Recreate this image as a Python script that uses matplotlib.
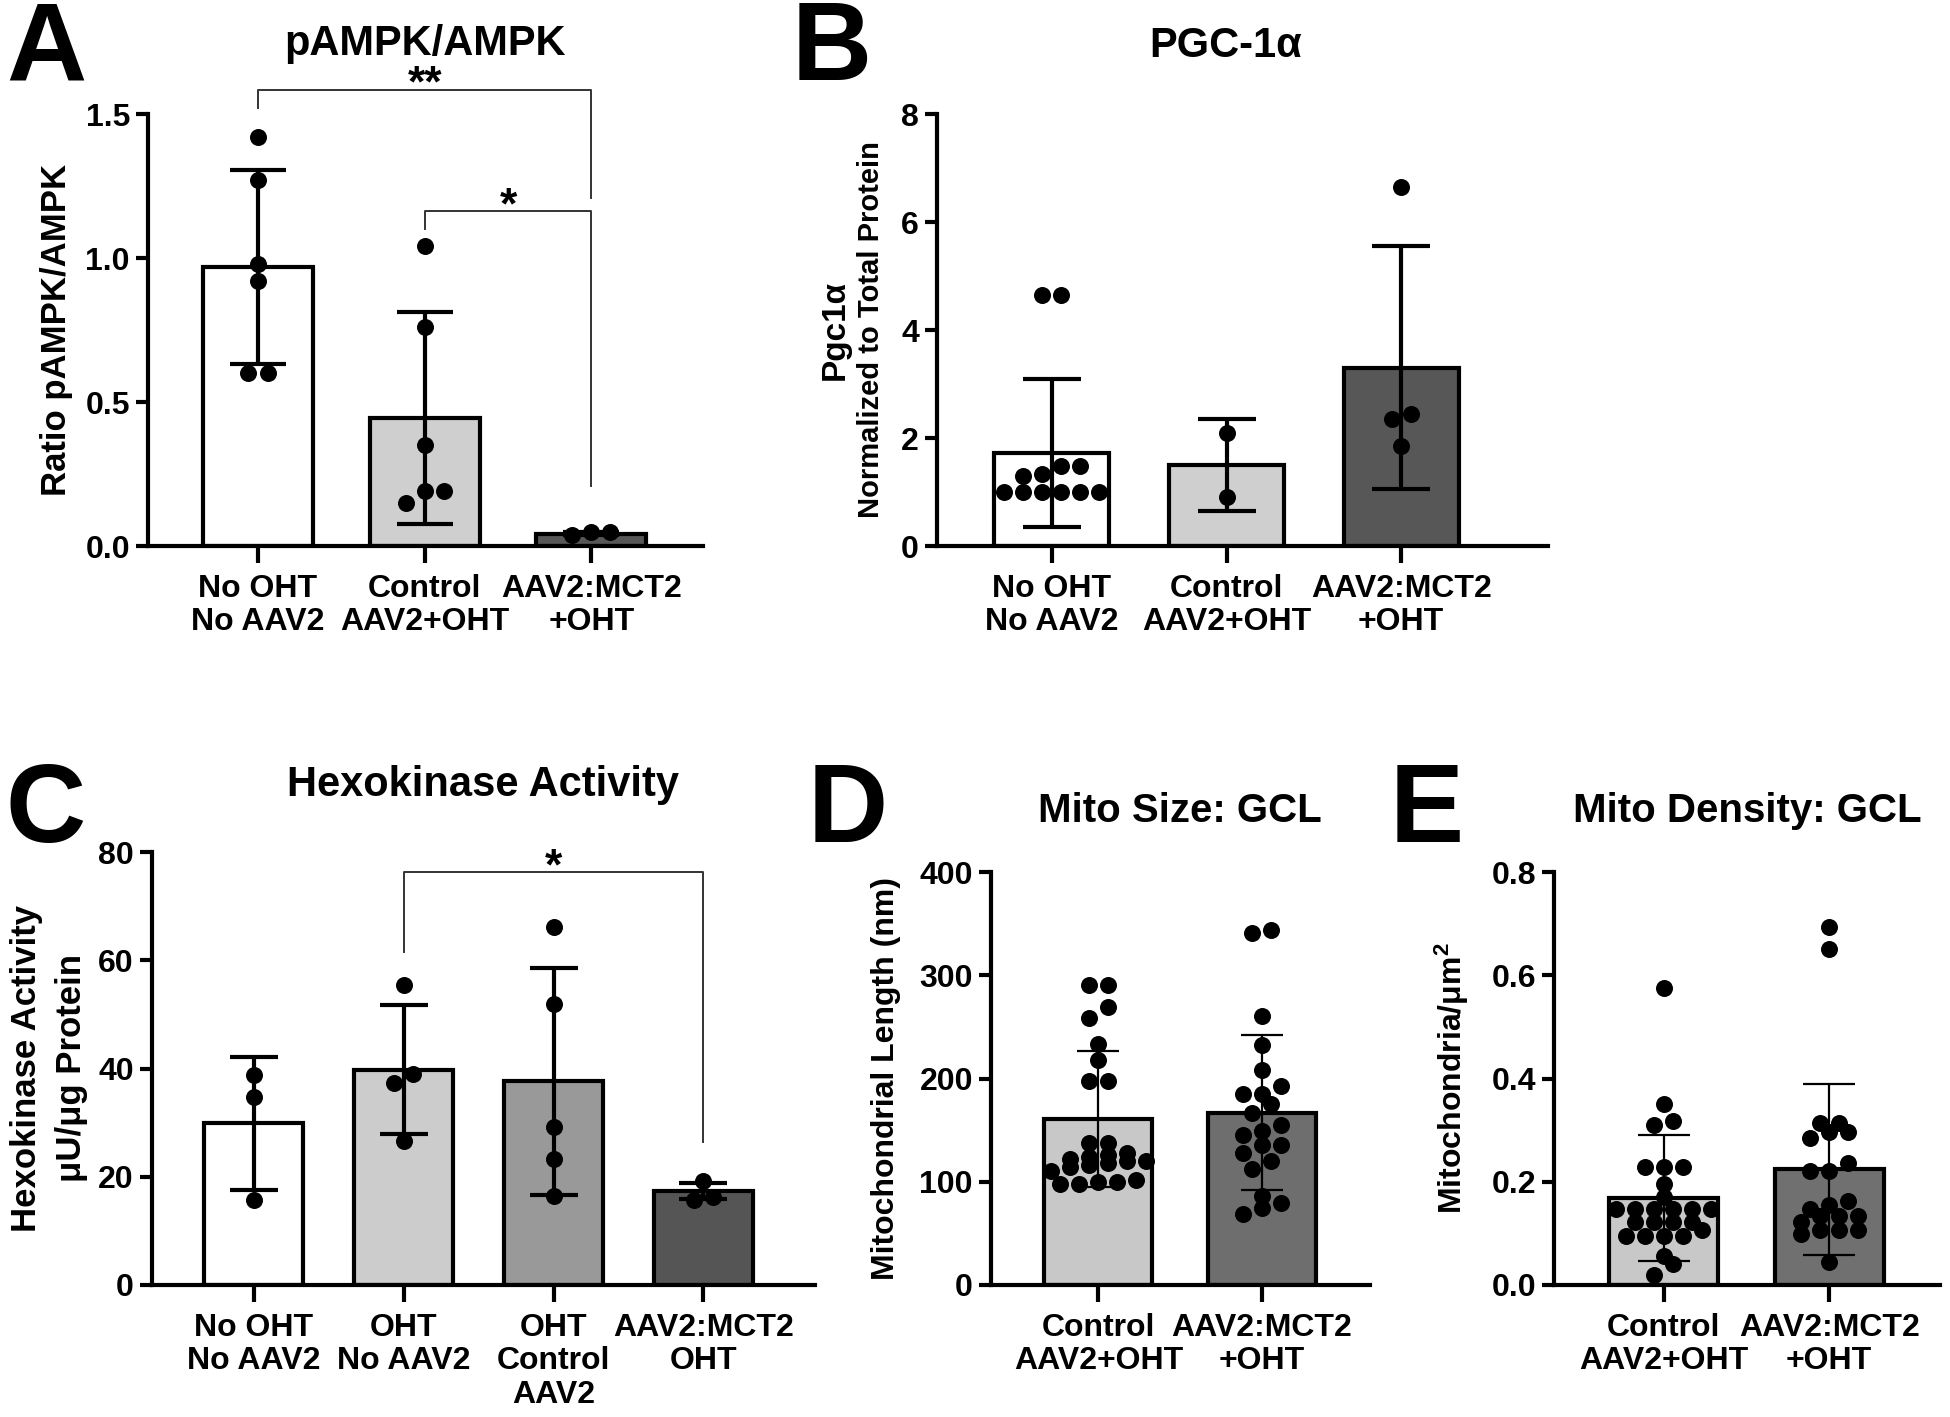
import matplotlib
matplotlib.use("Agg")
import matplotlib.pyplot as plt
import numpy as np

plt.rcParams['font.family'] = ['Liberation Sans', 'DejaVu Sans']
plt.rcParams['font.weight'] = 'bold'
plt.rcParams['mathtext.fontset'] = 'custom'
plt.rcParams['mathtext.rm'] = 'Liberation Sans:bold'
plt.rcParams['mathtext.bf'] = 'Liberation Sans:bold'
plt.rcParams['mathtext.it'] = 'Liberation Sans:bold'

# ---------------- data ----------------
# Panel A: pAMPK/AMPK
a_labels = ["No OHT\nNo AAV2", "Control\nAAV2+OHT", "AAV2:MCT2\n+OHT"]
a_means = [0.968, 0.444, 0.043]
a_sd = [0.337, 0.368, 0.006]
a_pts_noOHT = [1.42, 1.27, 0.98, 0.92, 0.60, 0.60]
a_pts_ctrl = [1.04, 0.76, 0.35, 0.19, 0.19, 0.15]
a_pts_mct2 = [0.048, 0.038, 0.048]

# Panel B: PGC-1a
b_labels = ["No OHT\nNo AAV2", "Control\nAAV2+OHT", "AAV2:MCT2\n+OHT"]
b_means = [1.73, 1.50, 3.30]
b_sd = [1.37, 0.85, 2.25]
b_pts_noOHT = [4.65, 4.65, 1.48, 1.48, 1.30, 1.33, 1.0, 1.0, 1.0, 1.0, 1.0, 1.0]
b_pts_ctrl = [2.10, 0.90]
b_pts_mct2 = [6.65, 2.45, 2.35, 1.85]

# Panel C: Hexokinase activity
c_labels = ["No OHT\nNo AAV2", "OHT\nNo AAV2", "OHT\nControl\nAAV2", "AAV2:MCT2\nOHT"]
c_means = [29.9, 39.8, 37.6, 17.3]
c_sd = [12.3, 11.9, 21.0, 1.5]
c_pts_1 = [38.8, 34.8, 15.7]
c_pts_2 = [55.5, 39.0, 37.3, 26.6]
c_pts_3 = [66.1, 52.0, 29.2, 23.3, 16.5]
c_pts_4 = [19.3, 15.7, 16.3]

# Panel D: Mito size GCL
d_labels = ["Control\nAAV2+OHT", "AAV2:MCT2\n+OHT"]
d_means = [161, 167]
d_sd = [66, 75]
d_pts_ctrl = [291, 291, 269, 259, 233, 218, 198, 198, 138, 138, 128, 126, 124,
              122, 120, 120, 118, 116, 114, 110, 102, 100, 100, 98, 98]
d_pts_mct2 = [344, 341, 261, 232, 208, 193, 185, 185, 175, 167, 155, 149, 145,
              136, 136, 128, 120, 112, 86, 79, 75, 69]

# Panel E: Mito density GCL
e_labels = ["Control\nAAV2+OHT", "AAV2:MCT2\n+OHT"]
e_means = [0.169, 0.224]
e_sd = [0.122, 0.165]
e_pts_ctrl = [0.575, 0.350, 0.318, 0.310, 0.228, 0.228, 0.228, 0.196, 0.171,
              0.147, 0.147, 0.147, 0.147, 0.147, 0.147, 0.122, 0.122, 0.122,
              0.122, 0.106, 0.094, 0.094, 0.094, 0.094, 0.057, 0.041, 0.020]
e_pts_mct2 = [0.694, 0.650, 0.314, 0.314, 0.297, 0.297, 0.285, 0.236, 0.220,
              0.220, 0.163, 0.155, 0.147, 0.134, 0.134, 0.134, 0.122, 0.106,
              0.106, 0.106, 0.098, 0.045]

# significance brackets: (left group, right group, bar y, left leg end, right leg end, label)
a_sig = [(0, 2, 1.585, 1.52, 1.21, "**"), (1, 2, 1.163, 1.10, 0.21, "*")]
c_sig = [(1, 3, 76.3, 61.5, 26.5, "*")]

# ---------------- figure ----------------
W, H, DPI = 1950, 1417, 100
fig = plt.figure(figsize=(W / DPI, H / DPI), dpi=DPI)

MARKER_D_PX = 17.0
BAR_W = 0.66


def px_box(l, r, t, b):
    return [l / W, 1 - b / H, (r - l) / W, (b - t) / H]


def rows_offsets(vals, ax_h_px, yrange, ax_w_px, xrange_, spacing=1.12):
    """Prism-like row layout: values close in y share a row, centred."""
    d_y = MARKER_D_PX * yrange / ax_h_px
    d_x = MARKER_D_PX * spacing * xrange_ / ax_w_px
    order = np.argsort(vals)
    v = np.asarray(vals, float)[order]
    offs = np.zeros(len(v))
    i = 0
    while i < len(v):
        j = i
        while j + 1 < len(v) and v[j + 1] - v[i] < 0.7 * d_y:
            j += 1
        n = j - i + 1
        for k in range(n):
            offs[i + k] = (k - (n - 1) / 2) * d_x
        i = j + 1
    out = np.zeros(len(v))
    out[order] = offs
    return out


def panel(box, ylim, yticks, yticklabels, xlim, labels, means, sds, groups,
          colors, capsize, elw, tick_fs=23, lab_fs=23, lw=3.0):
    ax = fig.add_axes(px_box(*box))
    l, r, t, b = box
    ax_w, ax_h = r - l, b - t
    x = np.arange(len(means))
    ax.bar(x, means, width=BAR_W, color=colors, edgecolor='black',
           linewidth=lw, zorder=2)
    ax.errorbar(x, means, yerr=sds, fmt='none', ecolor='black',
                elinewidth=elw, capsize=capsize, capthick=elw, zorder=3)
    for xi, pts in zip(x, groups):
        offs = rows_offsets(pts, ax_h, ylim[1] - ylim[0], ax_w, xlim[1] - xlim[0])
        ax.scatter(xi + offs, pts, s=(MARKER_D_PX * 0.72) ** 2, color='black',
                   zorder=4, clip_on=False, linewidths=0)
    ax.set_xlim(*xlim)
    ax.set_ylim(*ylim)
    ax.set_yticks(yticks)
    ax.set_yticklabels(yticklabels, fontsize=tick_fs, fontweight='bold')
    ax.set_xticks(x)
    ax.set_xticklabels(labels, fontsize=lab_fs, fontweight='bold',
                       linespacing=1.15)
    for s in ['top', 'right']:
        ax.spines[s].set_visible(False)
    for s in ['left', 'bottom']:
        ax.spines[s].set_linewidth(lw)
    ax.tick_params(axis='y', direction='out', length=9, width=lw, pad=4)
    ax.tick_params(axis='x', direction='out', length=12, width=lw, pad=8)
    return ax


def ftext(xp, yp, s, **kw):
    kw.setdefault('fontweight', 'bold')
    fig.text(xp / W, 1 - yp / H, s, **kw)


def brackets(ax, sigs, px_per_unit):
    for g0, g1, yb, y0, y1, lab in sigs:
        ax.plot([g0, g0, g1, g1], [y0, yb, yb, y1], color='#333333', lw=1.4,
                clip_on=False, zorder=5)
        ax.text((g0 + g1) / 2, yb - 7 / px_per_unit, lab, ha='center',
                va='baseline', fontsize=32, fontweight='bold')


# Panel A
axA = panel((148, 703, 114, 546), (0, 1.5), [0, 0.5, 1.0, 1.5],
            ["0.0", "0.5", "1.0", "1.5"], (-0.66, 2.67), a_labels, a_means,
            a_sd, [a_pts_noOHT, a_pts_ctrl, a_pts_mct2],
            ['white', '#cfcfcf', '#575757'], 20, 3.0)
ftext(57, 330, "Ratio pAMPK/AMPK", rotation=90, ha='center', va='center',
      fontsize=25)
ftext(425, 55, "pAMPK/AMPK", ha='center', va='baseline', fontsize=30)
brackets(axA, a_sig, 432 / 1.5)

# Panel B
axB = panel((937, 1548, 114, 546), (0, 8), [0, 2, 4, 6, 8],
            ["0", "2", "4", "6", "8"], (-0.657, 2.84), b_labels, b_means, b_sd,
            [b_pts_noOHT, b_pts_ctrl, b_pts_mct2],
            ['white', '#cfcfcf', '#575757'], 21, 3.0)
ftext(835, 330, "Pgc1α", rotation=90, ha='center', va='center', fontsize=24)
ftext(871, 330, "Normalized to Total Protein", rotation=90, ha='center',
      va='center', fontsize=21)
ftext(1226, 57, "PGC-1α", ha='center', va='baseline', fontsize=30)

# Panel C
axC = panel((152, 815, 852, 1285), (0, 80), [0, 20, 40, 60, 80],
            ["0", "20", "40", "60", "80"], (-0.68, 3.745), c_labels, c_means,
            c_sd, [c_pts_1, c_pts_2, c_pts_3, c_pts_4],
            ['white', '#cccccc', '#999999', '#555555'], 17, 3.0)
ftext(27, 1068, "Hexokinase Activity", rotation=90, ha='center', va='center',
      fontsize=25)
ftext(71, 1068, "μU/μg Protein", rotation=90, ha='center', va='center',
      fontsize=25)
ftext(483, 796, "Hexokinase Activity", ha='center', va='baseline', fontsize=30)
brackets(axC, c_sig, 433 / 80)

# Panel D
axD = panel((991, 1370, 872, 1285), (0, 400), [0, 100, 200, 300, 400],
            ["0", "100", "200", "300", "400"], (-0.657, 1.663), d_labels,
            d_means, d_sd, [d_pts_ctrl, d_pts_mct2],
            ['#c8c8c8', '#6e6e6e'], 15, 1.6)
ftext(886, 1078, "Mitochondrial Length (nm)", rotation=90, ha='center',
      va='center', fontsize=23)
ftext(1180, 822, "Mito Size: GCL", ha='center', va='baseline', fontsize=29)

# Panel E
axE = panel((1554, 1940, 872, 1285), (0, 0.8), [0, 0.2, 0.4, 0.6, 0.8],
            ["0.0", "0.2", "0.4", "0.6", "0.8"], (-0.664, 1.67), e_labels,
            e_means, e_sd, [e_pts_ctrl, e_pts_mct2],
            ['#c8c8c8', '#707070'], 19, 1.6)
ftext(1452, 1078, r"Mitochondria/μm$^{2}$", rotation=90, ha='center',
      va='center', fontsize=23)
ftext(1747, 822, "Mito Density: GCL", ha='center', va='baseline', fontsize=29)

# Panel letters
for letter, (xp, yp) in {"A": (6, 80), "B": (792, 80), "C": (6, 842),
                         "D": (808, 842), "E": (1390, 842)}.items():
    ftext(xp, yp, letter, fontsize=80, ha='left', va='baseline')

fig.savefig("out.png", dpi=DPI, facecolor='white')
